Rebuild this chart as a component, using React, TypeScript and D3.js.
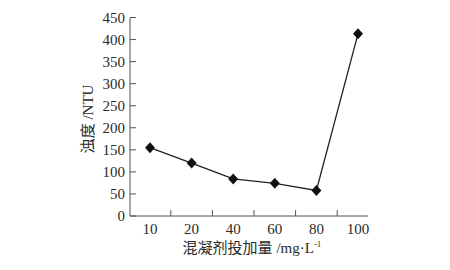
import React from "react";
import * as d3 from "d3";

const categories = ["10", "20", "40", "60", "80", "100"];
const turbidity = [155, 120, 84, 74, 58, 413];
const yTicks = [0, 50, 100, 150, 200, 250, 300, 350, 400, 450];

export default function App() {
  const W = 450, H = 270;
  const left = 130, right = 368, top = 17.5, bottom = 216;
  const x = d3.scalePoint<string>().domain(categories).range([150, 358]);
  const y = d3.scaleLinear().domain([0, 450]).range([bottom, top]);
  const line = d3.line<number>().x((_, i) => x(categories[i])!).y((d) => y(d));
  const step = x.step();
  const font = "'Liberation Serif', 'Times New Roman', serif";
  const cjk = "'Noto Sans CJK SC', 'Liberation Serif', serif";
  const axisColor = "#555";
  const textColor = "#2a2a2a";
  return (
    <svg width={W} height={H} style={{ position: "absolute", left: 0, top: 0, background: "#fff" }}>
      <line x1={left} y1={top} x2={left} y2={bottom} stroke={axisColor} strokeWidth={1} />
      <line x1={left} y1={bottom} x2={right} y2={bottom} stroke={axisColor} strokeWidth={1} />
      {yTicks.map((t) => (
        <g key={t}>
          <line x1={left} x2={left + 6} y1={y(t)} y2={y(t)} stroke={axisColor} />
          <text x={125} y={y(t)} dy="0.35em" textAnchor="end" fontSize={15} fontFamily={font} fill={textColor}>{t}</text>
        </g>
      ))}
      {categories.slice(0, -1).map((c) => (
        <line key={c} x1={x(c)! + step / 2} x2={x(c)! + step / 2} y1={bottom} y2={bottom - 6} stroke={axisColor} />
      ))}
      {categories.map((c) => (
        <text key={c} x={x(c)!} y={234} textAnchor="middle" fontSize={15} fontFamily={font} fill={textColor}>{c}</text>
      ))}
      <path d={line(turbidity)!} fill="none" stroke="#222" strokeWidth={1.3} />
      {turbidity.map((v, i) => {
        const cx = x(categories[i])!, cy = y(v);
        return <path key={i} d={`M${cx},${cy - 5.5}L${cx + 5},${cy}L${cx},${cy + 5.5}L${cx - 5},${cy}Z`} fill="#111" />;
      })}
      <text transform={`translate(93,119) rotate(-90)`} textAnchor="middle" fontSize={15} fill={textColor}>
        <tspan fontFamily={cjk}>浊度</tspan>
        <tspan fontFamily={font}> /NTU</tspan>
      </text>
      <text x={252} y={253} textAnchor="middle" fontSize={15} fill={textColor}>
        <tspan fontFamily={cjk}>混凝剂投加量</tspan>
        <tspan fontFamily={font}> /mg·L</tspan>
        <tspan fontFamily={font} fontSize={9} dy={-6}>-1</tspan>
      </text>
    </svg>
  );
}
